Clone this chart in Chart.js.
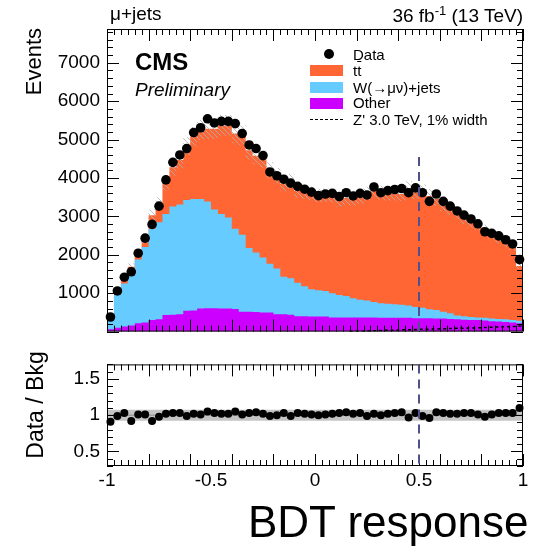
<!DOCTYPE html>
<html>
<head>
<meta charset="utf-8">
<script src="https://cdn.jsdelivr.net/npm/chart.js@4.4.1/dist/chart.umd.min.js"></script>
<style>
body { margin: 0; background: #fff; font-family: "Liberation Sans", Arial, sans-serif; }
#wrap { position: relative; width: 547px; height: 547px; overflow: hidden; }
canvas { position: absolute; left: 0; }
.t { position: absolute; white-space: nowrap; color: #000; line-height: 1; }
.rot { transform-origin: 0 0; transform: rotate(-90deg); }
.box { position: absolute; left: 310px; width: 33px; height: 11px; }
</style>
</head>
<body>
<div id="wrap">
  <canvas id="topc" width="547" height="350" style="top:0"></canvas>
  <canvas id="ratc" width="547" height="201" style="top:346px"></canvas>

  <div class="t" style="left:110px;top:4px;font-size:19px">μ+jets</div>
  <div class="t" style="right:24px;top:4px;font-size:19px">36 fb<sup style="font-size:13px;vertical-align:7px">-1</sup> (13 TeV)</div>
  <div class="t" style="left:135px;top:50px;font-size:24px;font-weight:bold">CMS</div>
  <div class="t" style="left:135px;top:80px;font-size:19px;font-style:italic">Preliminary</div>

  <div style="position:absolute;left:324px;top:49px;width:10px;height:10px;border-radius:50%;background:#000"></div>
  <div class="box" style="top:65px;background:#ff6633"></div>
  <div class="box" style="top:82px;background:#66ccff"></div>
  <div class="box" style="top:98px;background:#cc00ff"></div>
  <div style="position:absolute;left:310px;top:119px;width:33px;border-top:1.5px dashed #000"></div>
  <div class="t" style="left:353px;top:47px;font-size:15px">Data</div>
  <div class="t" style="left:353px;top:63px;font-size:15px">t<span style="text-decoration:overline">t</span></div>
  <div class="t" style="left:353px;top:80px;font-size:15px">W(→μν)+jets</div>
  <div class="t" style="left:353px;top:95px;font-size:15px">Other</div>
  <div class="t" style="left:353px;top:112px;font-size:15px">Z' 3.0 TeV, 1% width</div>

  <div class="t rot" style="left:23px;top:128px;width:100px;text-align:right;font-size:22px">Events</div>
  <div class="t rot" style="left:24px;top:475px;width:140px;text-align:center;font-size:23px">Data / Bkg</div>
  <div class="t" style="left:248px;top:500px;font-size:44px">BDT response</div>
</div>

<script>
// 60 bins of the BDT response between -1 and 1
const nBins = 60;
const binEdges = Array.from({length: nBins + 1}, (_, i) => -1 + i / 30);
const binLabels = Array.from({length: nBins}, (_, i) => (-1 + (i + 0.5) / 30).toFixed(3));

const dataEvents = [380, 1058, 1417, 1558, 2042, 2433, 2792, 3267, 3950, 4408,
  4600, 4767, 5183, 5308, 5542, 5433, 5475, 5475, 5417, 5158,
  4860, 4767, 4583, 4158, 4058, 3967, 3867, 3783, 3708, 3633,
  3542, 3583, 3600, 3517, 3617, 3533, 3600, 3558, 3767, 3617,
  3670, 3700, 3725, 3617, 3742, 3617, 3392, 3583, 3392, 3267,
  3142, 3033, 2933, 2808, 2600, 2558, 2492, 2392, 2283, 1875];

const ttbar = [90, 110, 130, 170, 150, 210, 350, 480, 810, 1020,
  1160, 1390, 1630, 1800, 1890, 2100, 2310, 2400, 2480, 2590,
  2540, 2520, 2560, 2430, 2420, 2420, 2520, 2400, 2460, 2500,
  2470, 2490, 2530, 2470, 2550, 2590, 2670, 2780, 2920, 2880,
  2870, 2880, 2880, 3050, 2990, 3030, 2950, 2890, 2770, 2720,
  2660, 2550, 2470, 2410, 2290, 2190, 2090, 2000, 1920, 1430];

const wjets = [270, 860, 1120, 1360, 1660, 1960, 2380, 2530, 2630, 2820,
  2860, 2890, 2900, 2850, 2780, 2570, 2460, 2370, 2090, 2000,
  1660, 1550, 1430, 1270, 1190, 980, 950, 870, 780, 710,
  685, 670, 630, 580, 560, 500, 460, 440, 400, 380,
  365, 355, 340, 320, 290, 270, 230, 220, 180, 150,
  100, 90, 80, 70, 70, 70, 70, 70, 60, 60];

const other = [60, 100, 130, 160, 220, 240, 300, 320, 430, 440,
  450, 540, 550, 600, 610, 610, 600, 600, 590, 520,
  520, 510, 500, 500, 450, 450, 440, 400, 400, 390,
  390, 390, 370, 370, 370, 370, 370, 370, 370, 360,
  360, 360, 360, 360, 350, 350, 350, 340, 340, 330,
  320, 310, 300, 300, 290, 270, 260, 250, 240, 220];

const zprime = [0, 0, 0, 0, 0, 0, 0, 0, 0, 0,
  0, 0, 0, 0, 0, 0, 0, 0, 0, 0,
  0, 0, 0, 0, 0, 0, 0, 0, 0, 0,
  0, 0, 0, 0, 0, 8, 12, 18, 22, 30,
  34, 38, 45, 50, 52, 58, 62, 70, 72, 80,
  85, 88, 95, 100, 108, 112, 120, 128, 135, 145];

const ratio = [0.91, 0.99, 1.03, 0.92, 1.01, 1.01, 0.92, 0.98, 1.02, 1.03,
  1.03, 0.99, 1.02, 1.01, 1.05, 1.03, 1.02, 1.02, 1.05, 1.01,
  1.03, 1.04, 1.02, 0.99, 1.00, 1.03, 0.99, 1.03, 1.02, 1.01,
  1.00, 1.01, 1.02, 1.03, 1.04, 1.02, 1.03, 0.99, 1.02, 1.00,
  1.02, 1.03, 1.04, 0.97, 1.03, 0.99, 0.96, 1.04, 1.03, 1.02,
  1.02, 1.03, 1.03, 1.01, 0.98, 1.01, 1.03, 1.03, 1.03, 1.10];

const eventTicks = [1000, 2000, 3000, 4000, 5000, 6000, 7000];
const ratioTicks = [0.5, 1, 1.5];
const xTicks = [-1, -0.5, 0, 0.5, 1];
const bkgUnc = 0.05;     // hatched band, relative
const ratioBand = 0.075; // grey band in the ratio

Chart.defaults.font.family = '"Liberation Sans", Arial, sans-serif';
Chart.defaults.color = '#000';

// cumulative stack tops, drawn as filled step histograms
const otherTop = other.slice();
const wTop = other.map((v, i) => v + wjets[i]);
const totalBkg = wTop.map((v, i) => v + ttbar[i]);

// one point per bin edge; 'before' in chart.js draws horizontal first
function stepPoints(vals) {
  const pts = vals.map((v, i) => ({x: binEdges[i], y: v}));
  pts.push({x: binEdges[nBins], y: vals[nBins - 1]});
  return pts;
}

function histo(label, vals, color) {
  return {type: 'line', label, data: stepPoints(vals), xAxisID: 'x', stepped: 'before',
    fill: 'origin', backgroundColor: color, borderColor: color, borderWidth: 0, pointRadius: 0};
}

function makeHatch() {
  const c = document.createElement('canvas');
  c.width = 5; c.height = 5;
  const g = c.getContext('2d');
  g.strokeStyle = 'rgba(175,175,175,0.85)';
  g.lineWidth = 1;
  g.beginPath();
  g.moveTo(0, 0); g.lineTo(5, 5);
  g.moveTo(-1, 4); g.lineTo(1, 6);
  g.moveTo(4, -1); g.lineTo(6, 1);
  g.stroke();
  return g.createPattern(c, 'repeat');
}

// ROOT-like frame with ticks pointing inwards
const frameTicks = {
  id: 'frameTicks',
  afterDatasetsDraw(chart, args, o) {
    const {ctx, chartArea: a, scales} = chart;
    const sx = scales.x, sy = scales.y;
    ctx.save();
    ctx.strokeStyle = '#000';
    ctx.lineWidth = 1;
    const seg = (x1, y1, x2, y2) => { ctx.beginPath(); ctx.moveTo(x1, y1); ctx.lineTo(x2, y2); ctx.stroke(); };
    for (let i = 0; i <= nBins; i++) {
      const px = Math.round(sx.getPixelForValue(binEdges[i])) + 0.5;
      const len = i % 6 === 0 ? o.xMajor : o.xMinor;
      seg(px, a.bottom, px, a.bottom - len);
      seg(px, a.top, px, a.top + len);
    }
    const n = Math.round((sy.max - o.yStart) / o.yStep);
    for (let i = 0; i <= n; i++) {
      const v = o.yStart + i * o.yStep;
      const py = Math.round(sy.getPixelForValue(v)) + 0.5;
      const r = v / o.yMajorStep;
      const len = Math.abs(r - Math.round(r)) < 1e-6 ? o.yMajor : o.yMinor;
      seg(a.left, py, a.left + len, py);
      seg(a.right, py, a.right - len, py);
    }
    ctx.strokeRect(a.left + 0.5, a.top + 0.5, a.width - 1, a.height - 1);
    ctx.restore();
  }
};

const zLine = {
  id: 'zLine',
  afterDatasetsDraw(chart, args, o) {
    const {ctx, chartArea: a, scales} = chart;
    const px = scales.x.getPixelForValue(o.at);
    const top = o.from != null ? scales.y.getPixelForValue(o.from) : a.top;
    ctx.save();
    ctx.strokeStyle = '#50508a';
    ctx.lineWidth = 2;
    ctx.setLineDash([9, 6]);
    ctx.beginPath(); ctx.moveTo(px, top); ctx.lineTo(px, a.bottom); ctx.stroke();
    ctx.restore();
  }
};

const tickFont = {size: 19};

new Chart(document.getElementById('topc'), {
  data: {
    labels: binLabels,
    datasets: [
      {type: 'line', label: 'Data', data: dataEvents, xAxisID: 'xb', showLine: false,
       pointRadius: 4.8, pointBackgroundColor: '#000', pointBorderWidth: 0},
      {type: 'line', label: 'unc up', data: stepPoints(totalBkg.map(v => v * (1 + bkgUnc))), xAxisID: 'x',
       stepped: 'before', fill: '+1', backgroundColor: makeHatch(), borderWidth: 0, pointRadius: 0},
      {type: 'line', label: 'unc dn', data: stepPoints(totalBkg.map(v => v * (1 - bkgUnc))), xAxisID: 'x',
       stepped: 'before', fill: false, borderWidth: 0, pointRadius: 0},
      {type: 'line', label: "Z'", data: stepPoints(zprime.map(v => v > 0 ? v : null)), xAxisID: 'x',
       stepped: 'before', fill: false, borderColor: '#000', borderWidth: 1.5, borderDash: [3, 3], pointRadius: 0, spanGaps: false},
      histo('Other', otherTop, '#cc00ff'),
      histo('W', wTop, '#66ccff'),
      histo('ttbar', totalBkg, '#ff6633')
    ]
  },
  options: {
    responsive: false,
    animation: false,
    layout: {padding: {left: 0, right: 24, top: 29, bottom: 6}},
    plugins: {
      legend: {display: false},
      tooltip: {enabled: false},
      frameTicks: {xMajor: 12, xMinor: 6, yStart: 0, yStep: 200, yMajorStep: 1000, yMajor: 12, yMinor: 6},
      zLine: {at: 0.5, from: 4550}
    },
    scales: {
      xb: {type: 'category', display: false, offset: true},
      x: {type: 'linear', display: false, min: -1, max: 1},
      y: {
        type: 'linear', min: 0, max: 7880,
        afterFit(s) { s.width = 107; },
        afterBuildTicks(s) { s.ticks = eventTicks.map(v => ({value: v})); },
        grid: {display: false, drawTicks: false},
        border: {display: false},
        ticks: {font: tickFont, padding: 7, callback: v => String(v)}
      }
    }
  },
  plugins: [frameTicks, zLine]
});

new Chart(document.getElementById('ratc'), {
  data: {
    labels: binLabels,
    datasets: [
      {type: 'line', label: 'Data/Bkg', data: ratio, xAxisID: 'xb', showLine: false,
       pointRadius: 4, pointBackgroundColor: '#000', pointBorderWidth: 0},
      {type: 'line', label: 'one', data: [{x: -1, y: 1}, {x: 1, y: 1}], xAxisID: 'x',
       borderColor: '#8c8c8c', borderWidth: 1, pointRadius: 0, fill: false},
      {type: 'line', label: 'band up', data: [{x: -1, y: 1 + ratioBand}, {x: 1, y: 1 + ratioBand}], xAxisID: 'x',
       borderWidth: 0, pointRadius: 0, fill: '+1', backgroundColor: '#c4c4c4'},
      {type: 'line', label: 'band dn', data: [{x: -1, y: 1 - ratioBand}, {x: 1, y: 1 - ratioBand}], xAxisID: 'x',
       borderWidth: 0, pointRadius: 0, fill: false}
    ]
  },
  options: {
    responsive: false,
    animation: false,
    layout: {padding: {left: 0, right: 24, top: 6, bottom: 0}},
    plugins: {
      legend: {display: false},
      tooltip: {enabled: false},
      frameTicks: {xMajor: 12, xMinor: 6, yStart: 0.3, yStep: 0.1, yMajorStep: 0.5, yMajor: 12, yMinor: 6},
      zLine: {at: 0.5}
    },
    scales: {
      xb: {type: 'category', display: false, offset: true},
      x: {
        type: 'linear', min: -1, max: 1, position: 'bottom',
        afterFit(s) { s.height = 81; },
        afterBuildTicks(s) { s.ticks = xTicks.map(v => ({value: v})); },
        grid: {display: false, drawTicks: false},
        border: {display: false},
        ticks: {font: tickFont, padding: 3, maxRotation: 0, callback: v => String(v)}
      },
      y: {
        type: 'linear', min: 0.3, max: 1.7,
        afterFit(s) { s.width = 107; },
        afterBuildTicks(s) { s.ticks = ratioTicks.map(v => ({value: v})); },
        grid: {display: false, drawTicks: false},
        border: {display: false},
        ticks: {font: tickFont, padding: 7, callback: v => String(v)}
      }
    }
  },
  plugins: [frameTicks, zLine]
});
</script>
</body>
</html>
